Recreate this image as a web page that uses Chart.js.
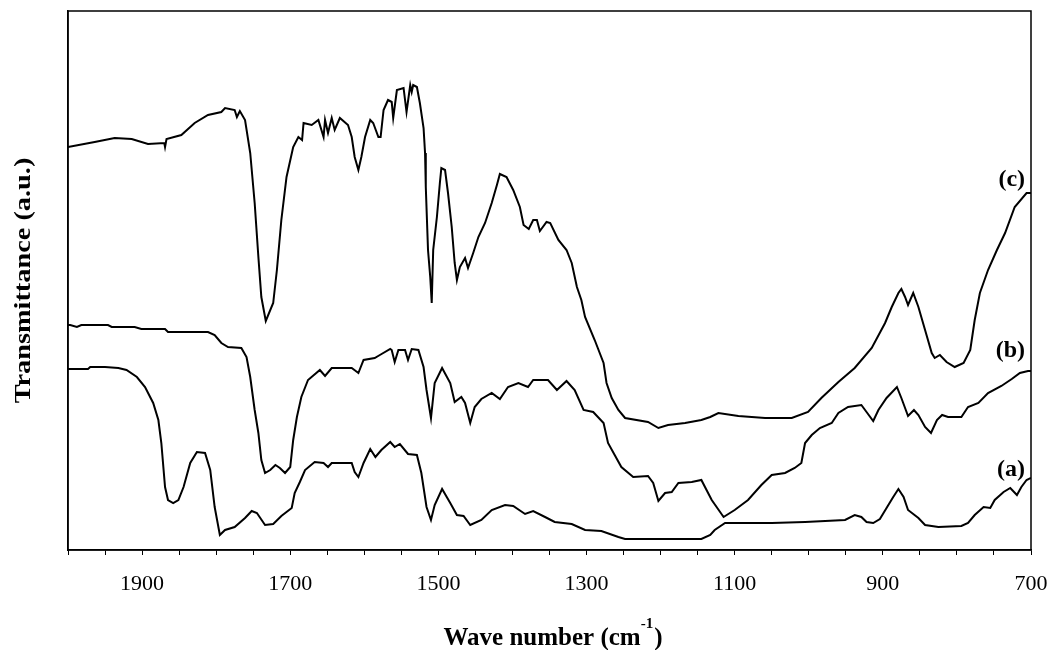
<!DOCTYPE html>
<html>
<head>
<meta charset="utf-8">
<title>FTIR spectra</title>
<script src="https://cdn.jsdelivr.net/npm/chart.js@4/dist/chart.umd.min.js"></script>
<style>
  html, body { margin: 0; padding: 0; background: #fff; }
  #wrap { width: 1050px; height: 650px; }
</style>
</head>
<body>
<div id="wrap"><canvas id="ftirChart" width="1050" height="650"></canvas></div>
<script>
// Spectrum (a) - wave number (cm-1) and transmittance (a.u.)
const waveA = [2000, 1973, 1970, 1950, 1932, 1921, 1907, 1896, 1885, 1878, 1874, 1869, 1865, 1858, 1851, 1844, 1835, 1826, 1815, 1808,
  1802, 1795, 1788, 1775, 1761, 1752, 1745, 1734, 1723, 1712, 1698, 1694, 1687, 1680, 1667, 1655, 1649, 1644, 1617, 1613,
  1608, 1601, 1592, 1585, 1577, 1565, 1559, 1552, 1541, 1529, 1523, 1516, 1510, 1505, 1495, 1484, 1475, 1466, 1457, 1442,
  1428, 1410, 1399, 1383, 1372, 1356, 1343, 1320, 1302, 1280, 1257, 1248, 1145, 1133, 1127, 1113, 1095, 1050, 1005, 951,
  938, 929, 922, 913, 904, 895, 886, 879, 872, 866, 852, 843, 825, 794, 785, 776, 764, 755, 749, 737,
  728, 719, 713, 706, 700];
const transA = [181, 181, 183, 183, 182, 180, 173, 163, 147, 130, 107, 63, 50, 47, 50, 63, 87, 98, 97, 80,
  43, 15, 20, 23, 32, 39, 37, 25, 26, 34, 42, 57, 68, 80, 88, 87, 83, 87, 87, 78,
  73, 87, 101, 93, 100, 108, 103, 106, 96, 95, 77, 43, 30, 45, 61, 47, 35, 34, 25, 30,
  40, 45, 44, 36, 39, 33, 28, 26, 20, 19, 13, 11, 11, 15, 20, 27, 27, 27, 28, 30,
  35, 33, 28, 27, 31, 42, 53, 61, 53, 40, 32, 25, 23, 24, 27, 35, 43, 42, 50, 58,
  62, 55, 63, 70, 72];

// Spectrum (b)
const waveB = [2000, 1997, 1988, 1982, 1946, 1941, 1910, 1901, 1869, 1865, 1847, 1811, 1802, 1793, 1784, 1766, 1759, 1754, 1748, 1743,
  1739, 1734, 1727, 1720, 1714, 1707, 1700, 1696, 1691, 1685, 1676, 1660, 1653, 1644, 1617, 1608, 1601, 1586, 1579, 1565,
  1563, 1559, 1554, 1545, 1541, 1536, 1527, 1520, 1516, 1510, 1505, 1495, 1484, 1478, 1469, 1464, 1457, 1451, 1442, 1428,
  1417, 1406, 1392, 1379, 1372, 1352, 1340, 1327, 1316, 1304, 1291, 1277, 1271, 1262, 1253, 1237, 1217, 1210, 1203, 1194,
  1185, 1176, 1158, 1145, 1138, 1131, 1115, 1100, 1082, 1064, 1050, 1032, 1019, 1010, 1005, 996, 985, 969, 960, 947,
  929, 922, 913, 906, 895, 881, 875, 866, 858, 852, 843, 835, 827, 820, 812, 794, 785, 771, 758, 740,
  726, 715, 704, 700];
const transB = [225, 225, 223, 225, 225, 223, 223, 221, 221, 218, 218, 218, 215, 207, 203, 202, 193, 173, 140, 117,
  90, 77, 80, 85, 82, 77, 83, 110, 133, 153, 170, 180, 174, 182, 182, 177, 190, 192, 195, 201,
  200, 188, 200, 200, 190, 201, 200, 183, 160, 132, 167, 182, 167, 148, 153, 147, 127, 143, 151, 157,
  151, 163, 167, 163, 170, 170, 160, 169, 160, 140, 138, 127, 107, 95, 83, 73, 74, 67, 49, 57,
  58, 67, 68, 70, 60, 50, 33, 40, 50, 65, 75, 77, 82, 87, 107, 115, 122, 127, 137, 143,
  145, 138, 129, 140, 152, 163, 152, 134, 140, 135, 123, 117, 130, 135, 133, 133, 143, 147, 157, 164,
  171, 177, 179, 179];

// Spectrum (c)
const waveC = [2000, 1964, 1937, 1914, 1892, 1870, 1869, 1867, 1847, 1829, 1811, 1793, 1788, 1775, 1772, 1768, 1761, 1754, 1748, 1743,
  1739, 1733, 1723, 1718, 1712, 1705, 1696, 1689, 1684, 1682, 1671, 1662, 1655, 1653, 1649, 1644, 1640, 1633, 1622, 1617,
  1613, 1608, 1604, 1599, 1592, 1588, 1581, 1578, 1574, 1568, 1563, 1561, 1556, 1547, 1543, 1538, 1536, 1534, 1529, 1525,
  1520, 1518, 1517, 1514, 1511, 1509, 1507, 1502, 1498, 1496, 1491, 1487, 1482, 1478, 1475, 1471, 1464, 1460, 1453, 1446,
  1437, 1428, 1421, 1417, 1408, 1399, 1390, 1385, 1378, 1372, 1367, 1363, 1354, 1349, 1338, 1327, 1320, 1313, 1307, 1302,
  1289, 1277, 1273, 1266, 1257, 1248, 1217, 1203, 1190, 1167, 1145, 1133, 1122, 1095, 1059, 1023, 1001, 983, 960, 938,
  915, 897, 888, 879, 875, 870, 866, 859, 852, 843, 834, 830, 823, 814, 803, 791, 782, 776, 769, 758,
  746, 735, 722, 706, 700];
const transC = [403, 408, 412, 411, 406, 407, 403, 411, 415, 427, 435, 438, 442, 440, 433, 439, 430, 397, 347, 293,
  253, 229, 247, 280, 330, 373, 403, 413, 410, 427, 425, 430, 413, 430, 417, 432, 420, 432, 425, 413,
  393, 380, 393, 413, 430, 427, 413, 413, 440, 450, 448, 432, 460, 462, 438, 465, 458, 465, 463, 447,
  422, 397, 363, 300, 273, 247, 300, 333, 367, 382, 380, 357, 323, 287, 270, 283, 292, 282, 297, 313,
  327, 347, 365, 376, 373, 360, 343, 325, 321, 330, 330, 319, 328, 327, 310, 300, 287, 263, 250, 233,
  210, 187, 167, 152, 140, 132, 128, 122, 125, 127, 130, 133, 137, 134, 132, 132, 138, 152, 168, 182,
  202, 227, 243, 257, 261, 253, 245, 257, 243, 220, 197, 192, 195, 188, 183, 187, 200, 230, 257, 280,
  300, 317, 343, 357, 357];

const xTicks = [1900, 1700, 1500, 1300, 1100, 900, 700];
const seriesNames = ['(a)', '(b)', '(c)'];

// where the series names sit (data units: wave number, transmittance)
const nameAnchor = { x: 708, y: [74, 193, 364] };

const FONT = '"Liberation Serif", "Times New Roman", "DejaVu Serif", serif';

function toPoints(xs, ys) {
    return xs.map((x, i) => ({ x: x, y: ys[i] }));
}

// box around the plot area
const framePlugin = {
    id: 'frame',
    afterDraw(chart) {
        const { ctx, chartArea } = chart;
        ctx.save();
        ctx.strokeStyle = '#000';
        ctx.lineWidth = 1.5;
        ctx.strokeRect(chartArea.left, chartArea.top, chartArea.right - chartArea.left, chartArea.bottom - chartArea.top);
        ctx.restore();
    }
};

// (a), (b), (c) next to the curves
const seriesNamePlugin = {
    id: 'seriesNames',
    afterDatasetsDraw(chart) {
        const { ctx, scales } = chart;
        ctx.save();
        ctx.fillStyle = '#000';
        ctx.font = 'bold 24px ' + FONT;
        ctx.textAlign = 'right';
        ctx.textBaseline = 'alphabetic';
        seriesNames.forEach((name, i) => {
            ctx.fillText(name, scales.x.getPixelForValue(nameAnchor.x), scales.y.getPixelForValue(nameAnchor.y[i]));
        });
        ctx.restore();
    }
};

// axis titles: x title has the superscript -1, y title is a bit stretched like the original
const axisTitlePlugin = {
    id: 'axisTitles',
    afterDraw(chart) {
        const { ctx, chartArea } = chart;
        const main = 'Wave number (cm';
        const sup = '-1';
        const close = ')';
        ctx.save();
        ctx.fillStyle = '#000';
        ctx.textBaseline = 'alphabetic';
        ctx.textAlign = 'left';
        ctx.font = 'bold 25px ' + FONT;
        const wMain = ctx.measureText(main).width;
        const wClose = ctx.measureText(close).width;
        ctx.font = 'bold 15px ' + FONT;
        const wSup = ctx.measureText(sup).width;
        const total = wMain + wSup + 1 + wClose;
        const cx = 553;
        let x = cx - total / 2;
        const base = chartArea.bottom + 95;
        ctx.font = 'bold 25px ' + FONT;
        ctx.fillText(main, x, base);
        x += wMain;
        ctx.font = 'bold 15px ' + FONT;
        ctx.fillText(sup, x, base - 17);
        x += wSup + 1;
        ctx.font = 'bold 25px ' + FONT;
        ctx.fillText(close, x, base);

        // y title
        ctx.translate(30, (chartArea.top + chartArea.bottom) / 2);
        ctx.rotate(-Math.PI / 2);
        ctx.scale(1.18, 1);
        ctx.textAlign = 'center';
        ctx.font = 'bold 24px ' + FONT;
        ctx.fillText('Transmittance (a.u.)', 0, 0);
        ctx.restore();
    }
};

const lineStyle = {
    borderColor: '#000',
    backgroundColor: '#000',
    borderWidth: 2,
    pointRadius: 0,
    tension: 0,
    fill: false,
    showLine: true
};

new Chart(document.getElementById('ftirChart'), {
    type: 'scatter',
    data: {
        datasets: [
            Object.assign({ label: seriesNames[0], data: toPoints(waveA, transA) }, lineStyle),
            Object.assign({ label: seriesNames[1], data: toPoints(waveB, transB) }, lineStyle),
            Object.assign({ label: seriesNames[2], data: toPoints(waveC, transC) }, lineStyle)
        ]
    },
    options: {
        responsive: false,
        animation: false,
        layout: { padding: { top: 11, right: 19, left: 0, bottom: 0 } },
        plugins: {
            legend: { display: false },
            tooltip: { enabled: false }
        },
        scales: {
            x: {
                type: 'linear',
                reverse: true,
                min: 700,
                max: 2000,
                afterFit: (scale) => {
                    scale.height = 100;
                    scale.paddingLeft = 0;
                    scale.paddingRight = 0;
                },
                border: { display: true, color: '#000', width: 1.5 },
                grid: { display: true, drawOnChartArea: false, drawTicks: true, tickLength: 5, color: '#000', lineWidth: 1 },
                ticks: {
                    stepSize: 50,
                    autoSkip: false,
                    maxRotation: 0,
                    padding: 16,
                    color: '#000',
                    font: { family: FONT, size: 22 },
                    callback: (v) => xTicks.includes(v) ? String(v) : ''
                }
            },
            y: {
                type: 'linear',
                min: 0,
                max: 539,
                afterFit: (scale) => { scale.width = 68; },
                border: { display: true, color: '#000', width: 1.5 },
                grid: { display: false },
                ticks: { display: false }
            }
        }
    },
    plugins: [framePlugin, seriesNamePlugin, axisTitlePlugin]
});
</script>
</body>
</html>
